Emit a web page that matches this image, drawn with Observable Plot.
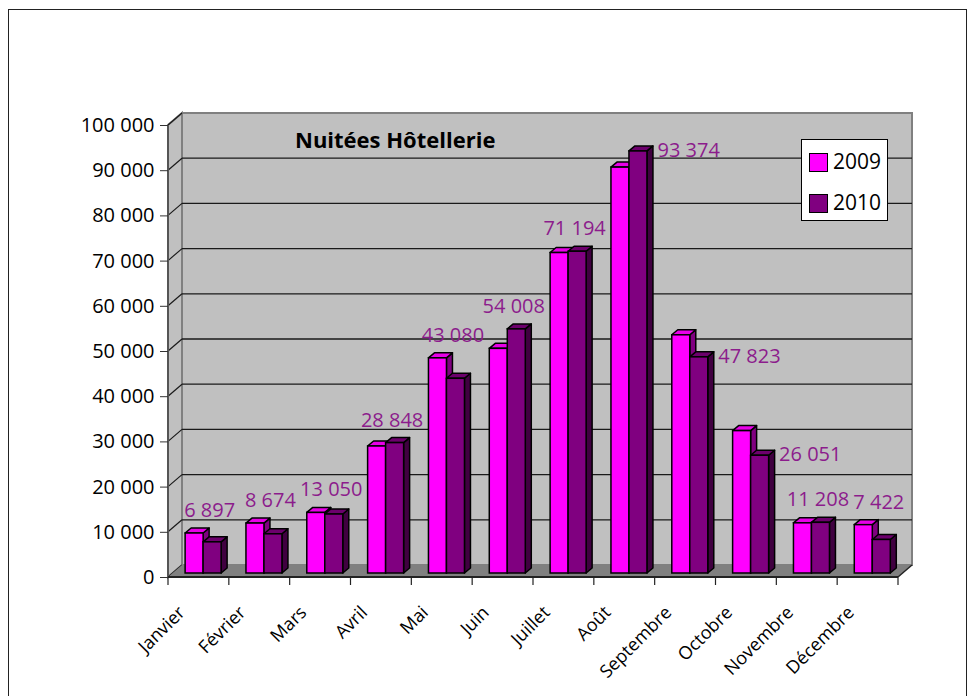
<!DOCTYPE html>
<html>
<head>
<meta charset="utf-8">
<script src="https://cdn.jsdelivr.net/npm/d3@7"></script>
<script src="https://cdn.jsdelivr.net/npm/@observablehq/plot@0.6"></script>
<style>
  html, body { margin: 0; padding: 0; background: #fff; overflow: hidden; }
  #wrap { position: relative; width: 971px; height: 696px; overflow: hidden; font-family: "Open Sans", sans-serif; }
  #frame { position: absolute; left: 8px; top: 9px; width: 959px; height: 760px; border: 1.5px solid #222; box-sizing: border-box; }
  #chart { position: absolute; left: 0; top: 0; }
  #title { position: absolute; left: 295px; top: 128px; font-size: 22px; line-height: 22px; font-weight: bold; color: #000; white-space: nowrap; }
  #legend { position: absolute; left: 801px; top: 139px; width: 87px; height: 82px; background: #fff; border: 1.5px solid #000; box-sizing: border-box; }
  .sw { position: absolute; left: 7px; width: 19px; height: 19px; border: 1.5px solid #000; box-sizing: border-box; }
  .lt { position: absolute; left: 31px; font-size: 21px; line-height: 21px; color: #000; }
</style>
</head>
<body>
<div id="wrap">
  <div id="frame"></div>
  <div id="chart"></div>
  <div id="title"></div>
  <div id="legend"></div>
</div>
<script>
// ---------- data ----------
const months = ["Janvier", "Février", "Mars", "Avril", "Mai", "Juin", "Juillet", "Août", "Septembre", "Octobre", "Novembre", "Décembre"];
const seriesNames = ["2009", "2010"];
const values2009 = [8850, 11050, 13400, 28100, 47600, 49700, 70900, 89800, 52700, 31500, 11100, 10700];
const values2010 = [6897, 8674, 13050, 28848, 43080, 54008, 71194, 93374, 47823, 26051, 11208, 7422];
const yTicks = [0, 10000, 20000, 30000, 40000, 50000, 60000, 70000, 80000, 90000, 100000];
const titleText = "Nuitées Hôtellerie";
const labelsOnRight = ["Août", "Septembre", "Octobre"];

// ---------- layout / style ----------
const W = 971, H = 696, mL = 168, mR = 73, mT = 125, mB = 119;
const wallDepth = {dx: 14, dy: -12};
const barPlane = {dx: 4.7, dy: -4};
const barDepth = {dx: 6, dy: -5};
const barW = 18;
const bw = (W - mL - mR) / months.length;
const colors = {
  "2009": {front: "#ff00ff", top: "#e800e8", side: "#800080"},
  "2010": {front: "#800080", top: "#6c006c", side: "#400040"}
};
const labelColor = "#8c1c8c";

const fr = d3.formatLocale({decimal: ",", thousands: "\u00a0", grouping: [3], currency: ["", " €"]});
const fmt = fr.format(",d");

const valuesBySeries = {"2009": values2009, "2010": values2010};
const rows = seriesNames.flatMap(s => months.map((m, i) => ({month: m, series: s, value: valuesBySeries[s][i]})));
const insetFor = k => (bw - 2 * barW) / 2 + k * barW;

// 3D walls, floor, axis lines
function walls(index, {x, y}) {
  const L = mL, R = W - mR;
  const y0 = y(0), yT = y(100000);
  const {dx, dy} = wallDepth;
  const g = d3.create("svg:g");
  g.append("rect").attr("x", L + dx).attr("y", yT + dy).attr("width", R - L).attr("height", y0 - yT)
    .attr("fill", "#c0c0c0").attr("stroke", "#808080").attr("stroke-width", 2);
  g.append("path").attr("d", `M${L},${y0}L${L + dx},${y0 + dy}L${L + dx},${yT + dy}L${L},${yT}Z`)
    .attr("fill", "#c0c0c0").attr("stroke", "#808080").attr("stroke-width", 2);
  for (const t of yTicks) {
    if (t > 0 && t < 100000) {
      g.append("line").attr("x1", L + dx).attr("x2", R + dx).attr("y1", y(t) + dy).attr("y2", y(t) + dy)
        .attr("stroke", "#1a1a1a").attr("stroke-width", 1.3);
    }
    g.append("line").attr("x1", L).attr("x2", L + dx).attr("y1", y(t)).attr("y2", y(t) + dy)
      .attr("stroke", "#1a1a1a").attr("stroke-width", 1.2);
  }
  // floor
  g.append("path").attr("d", `M${L},${y0}L${R},${y0}L${R + dx},${y0 + dy}L${L + dx},${y0 + dy}Z`)
    .attr("fill", "#808080");
  // axis lines
  g.append("line").attr("x1", L).attr("x2", L).attr("y1", yT).attr("y2", y0).attr("stroke", "#555").attr("stroke-width", 2);
  g.append("line").attr("x1", L).attr("x2", R).attr("y1", y0).attr("y2", y0).attr("stroke", "#222").attr("stroke-width", 2);
  g.append("line").attr("x1", R).attr("x2", R + dx).attr("y1", y0).attr("y2", y0 + dy).attr("stroke", "#222").attr("stroke-width", 1.5);
  // category boundary ticks
  const bounds = months.map(m => x(m)).concat([x(months[months.length - 1]) + x.bandwidth()]);
  for (const b of bounds) {
    g.append("line").attr("x1", b).attr("x2", b).attr("y1", y0).attr("y2", y0 + 8).attr("stroke", "#222").attr("stroke-width", 1.2);
  }
  return g.node();
}

// side and top faces of the bars of one series
const faces = k => function(index, {x, y}) {
  const s = seriesNames[k], c = colors[s], vals = valuesBySeries[s];
  const g = d3.create("svg:g").attr("stroke", "#000").attr("stroke-width", 1.5).attr("stroke-linejoin", "round");
  months.forEach((m, i) => {
    const x0 = x(m) + insetFor(k) + barPlane.dx, x1 = x0 + barW;
    const yt = y(vals[i]) + barPlane.dy, yb = y(0) + barPlane.dy;
    const {dx, dy} = barDepth;
    g.append("path").attr("fill", c.side)
      .attr("d", `M${x1},${yt}L${x1 + dx},${yt + dy}L${x1 + dx},${yb + dy}L${x1},${yb}Z`);
    g.append("path").attr("fill", c.top)
      .attr("d", `M${x0},${yt}L${x0 + dx},${yt + dy}L${x1 + dx},${yt + dy}L${x1},${yt}Z`);
  });
  return g.node();
};

const fronts = k => Plot.barY(rows.filter(d => d.series === seriesNames[k]), {
  x: "month", y: "value",
  insetLeft: insetFor(k), insetRight: bw - insetFor(k) - barW,
  dx: barPlane.dx, dy: barPlane.dy,
  fill: colors[seriesNames[k]].front, stroke: "#000", strokeWidth: 1.5
});

// labels of the 2010 series, placed above the taller bar of each pair
const labelRows = months.map((m, i) => ({month: m, value: values2010[i], top: Math.max(values2009[i], values2010[i])}));
const purpleCenter = insetFor(1) + barW / 2 - bw / 2 + barPlane.dx;

const chart = Plot.plot({
  width: W, height: H,
  marginLeft: mL, marginRight: mR, marginTop: mT, marginBottom: mB,
  style: {background: "transparent", fontFamily: "'Open Sans', sans-serif", color: "#000"},
  x: {domain: months, padding: 0, round: false, axis: null},
  y: {domain: [0, 100000]},
  marks: [
    walls,
    Plot.axisY({ticks: yTicks, tickFormat: fmt, tickSize: 8, tickPadding: 6, fontSize: 20, label: null, stroke: "#333"}),
    faces(0), fronts(0),
    faces(1), fronts(1),
    Plot.text(labelRows.filter(d => !labelsOnRight.includes(d.month)), {
      x: "month", y: "top", text: d => fmt(d.value),
      dx: purpleCenter - 3, dy: barPlane.dy - 23,
      fill: labelColor, fontSize: 20, textAnchor: "middle", lineAnchor: "middle"
    }),
    Plot.text(labelRows.filter(d => labelsOnRight.includes(d.month)), {
      x: "month", y: "value", text: d => fmt(d.value),
      dx: purpleCenter + barW / 2 + 10, dy: barPlane.dy - 1,
      fill: labelColor, fontSize: 20, textAnchor: "start", lineAnchor: "middle"
    }),
    Plot.text(months, {
      x: d => d, frameAnchor: "bottom", text: d => d,
      rotate: -45, textAnchor: "end", lineAnchor: "middle",
      dx: -17, dy: 32, fontSize: 18, fill: "#000"
    })
  ]
});
document.getElementById("chart").appendChild(chart);

document.getElementById("title").textContent = titleText;
const legend = document.getElementById("legend");
seriesNames.forEach((s, i) => {
  const sw = document.createElement("div");
  sw.className = "sw";
  sw.style.top = (13 + i * 41) + "px";
  sw.style.background = colors[s].front;
  legend.appendChild(sw);
  const t = document.createElement("div");
  t.className = "lt";
  t.style.top = (11 + i * 41) + "px";
  t.textContent = s;
  legend.appendChild(t);
});
</script>
</body>
</html>
